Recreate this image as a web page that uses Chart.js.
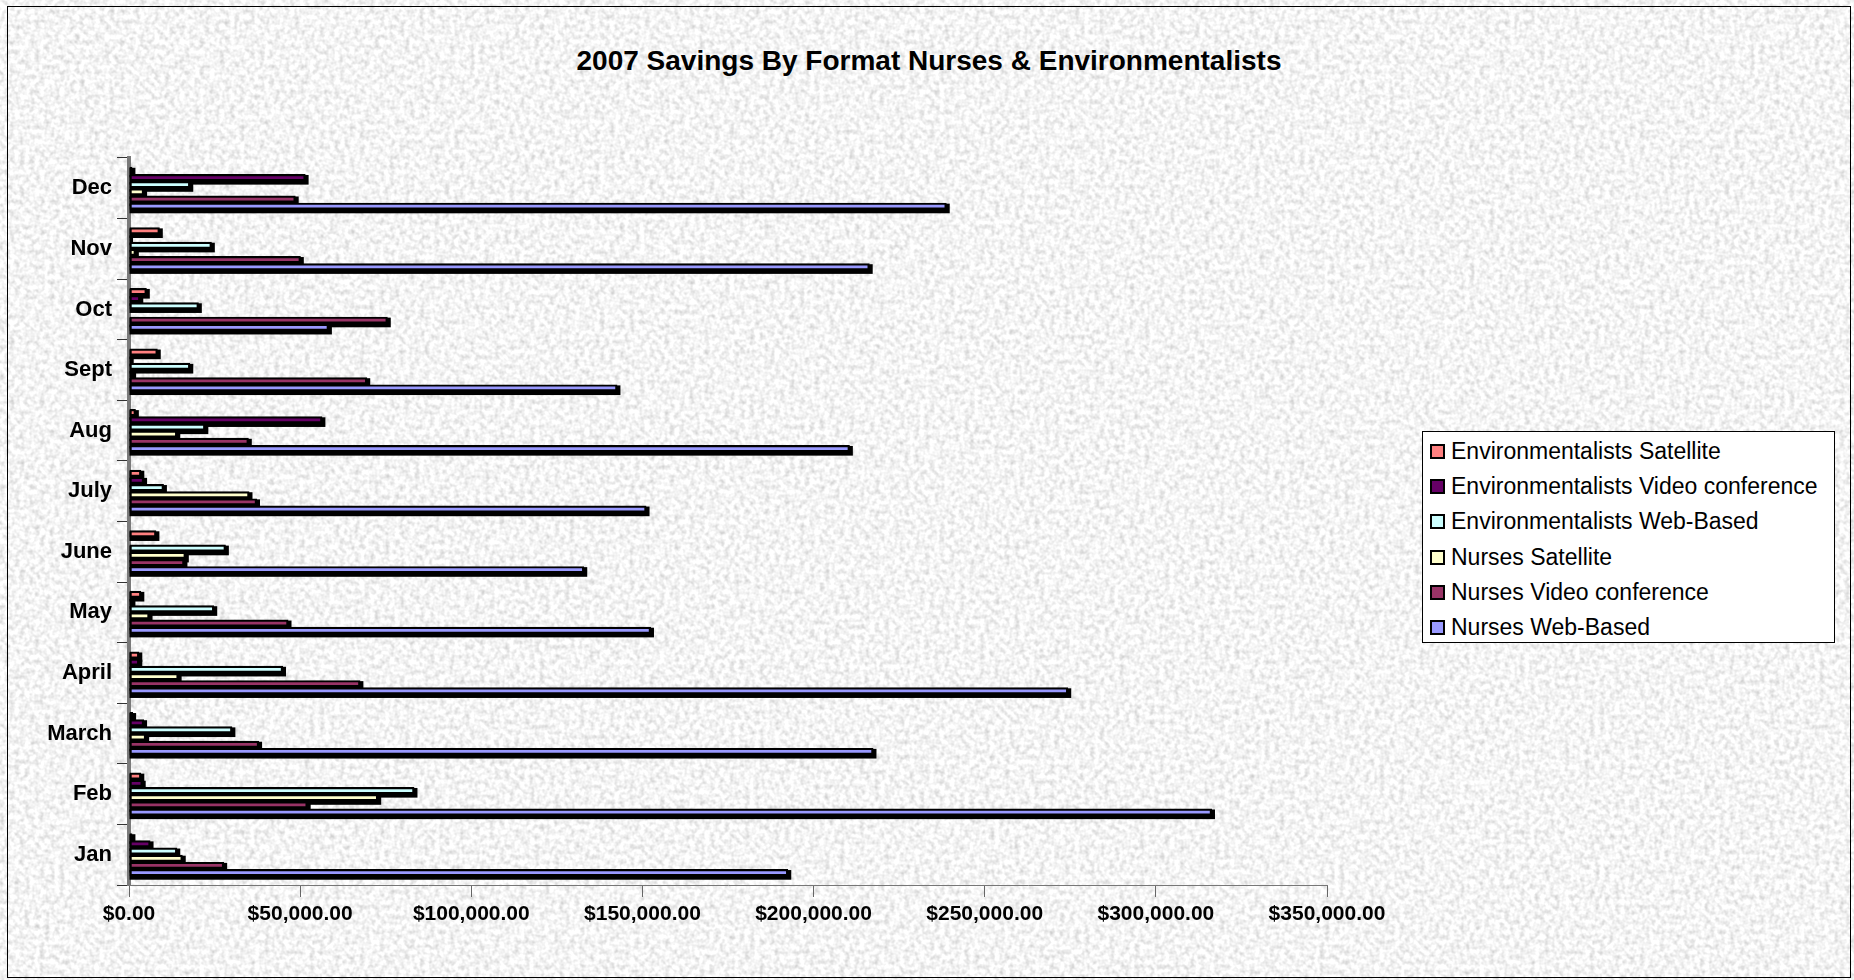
<!DOCTYPE html>
<html>
<head>
<meta charset="utf-8">
<script src="https://cdn.jsdelivr.net/npm/chart.js@4.4.0/dist/chart.umd.min.js"></script>
<style>
    body { margin: 0; background: #fff; }
    #wrap {
        position: relative;
        width: 1854px;
        height: 980px;
        background-color: #e6e6e6;
        background-image: url("data:image/svg+xml,%3Csvg xmlns='http://www.w3.org/2000/svg' width='1854' height='980'%3E%3Cfilter id='n'%3E%3CfeTurbulence type='fractalNoise' baseFrequency='0.2' numOctaves='2' seed='3'/%3E%3CfeColorMatrix type='matrix' values='0.7 0 0 0 0.56 0.7 0 0 0 0.56 0.7 0 0 0 0.56 0 0 0 0 1'/%3E%3C/filter%3E%3Crect width='100%25' height='100%25' filter='url(%23n)'/%3E%3C/svg%3E");
        font-family: "Liberation Sans", Arial, sans-serif;
    }
    #frame {
        position: absolute;
        left: 7px; top: 6px; width: 1844px; height: 972px;
        border: 1px solid #000;
        box-sizing: border-box;
    }
    #title {
        position: absolute;
        left: 7px; width: 1844px; top: 43px;
        text-align: center;
        font-weight: bold;
        font-size: 28px;
        line-height: 36px;
        color: #000;
    }
    #legend {
        position: absolute;
        left: 1422px; top: 431px; width: 413px; height: 212px;
        box-sizing: border-box;
        background: #fff;
        border: 1px solid #000;
        padding: 2px 0 0 7px;
    }
    .item { height: 35.2px; display: flex; align-items: center; font-size: 23px; color: #000; }
    .sw { width: 15px; height: 15px; border: 2px solid #000; box-sizing: border-box; margin-right: 6px; }
    canvas { position: absolute; left: 0; top: 0; }
</style>
</head>
<body>
<div id="wrap">
    <div id="frame"></div>
    <div id="title">2007 Savings By Format Nurses &amp; Environmentalists</div>
    <canvas id="chart" width="1854" height="980"></canvas>
    <div id="legend"></div>
</div>
<script>
// months, bottom (Jan) to top (Dec)
const months = ['Jan', 'Feb', 'March', 'April', 'May', 'June', 'July', 'Aug', 'Sept', 'Oct', 'Nov', 'Dec'];

const seriesNames = [
    'Environmentalists Satellite',
    'Environmentalists Video conference',
    'Environmentalists Web-Based',
    'Nurses Satellite',
    'Nurses Video conference',
    'Nurses Web-Based'
];
const seriesColors = ['#FF8080', '#660066', '#CCFFFF', '#FFFFCC', '#993366', '#9999FF'];

const envSatellite    = [1000, 3600, 1200, 3000, 3600, 8000, 3600, 2000, 8400, 5200, 9000, 1000];
const envVideo        = [6300, 4000, 4400, 3000, 1000, 0, 4400, 56500, 500, 3300, 300, 51600];
const envWeb          = [14100, 83400, 30200, 45000, 24900, 28300, 10200, 22300, 17900, 20400, 24200, 17900];
const nursesSatellite = [15700, 72800, 5000, 14500, 6000, 16600, 35200, 14100, 1200, 0, 2000, 4400];
const nursesVideo     = [27800, 52200, 38000, 67600, 46600, 16200, 37400, 35000, 69600, 75600, 50200, 48700];
const nursesWeb       = [192600, 316400, 217500, 274400, 152500, 133000, 151200, 210600, 142700, 58400, 216400, 238900];

const xTicks = [0, 50000, 100000, 150000, 200000, 250000, 300000, 350000];

const allSeries = [envSatellite, envVideo, envWeb, nursesSatellite, nursesVideo, nursesWeb];

// --- HTML legend ---
const legendDiv = document.getElementById('legend');
seriesNames.forEach((name, i) => {
    const row = document.createElement('div');
    row.className = 'item';
    row.innerHTML = `<span class="sw" style="background:${seriesColors[i]}"></span>${name}`;
    legendDiv.appendChild(row);
});

// black drop shadow behind every bar, taken from the bar geometry
const barShadow = {
    id: 'barShadow',
    beforeDatasetsDraw(chart) {
        const ctx = chart.ctx;
        ctx.save();
        ctx.fillStyle = '#000';
        chart.data.datasets.forEach((ds, di) => {
            const meta = chart.getDatasetMeta(di);
            meta.data.forEach(bar => {
                const p = bar.getProps(['x', 'y', 'base', 'height'], true);
                if (p.x - p.base < 0.5) return;
                ctx.fillRect(p.base, p.y - p.height / 2 + 1, p.x - p.base + 3, p.height + 2.5);
            });
        });
        ctx.restore();
    }
};

const fontFamily = '"Liberation Sans", Arial, sans-serif';

new Chart(document.getElementById('chart'), {
    type: 'bar',
    data: {
        labels: months,
        datasets: allSeries.map((values, i) => ({
            label: seriesNames[i],
            data: values,
            backgroundColor: seriesColors[i],
            borderColor: '#000',
            borderWidth: 2.2,
            borderSkipped: false,
            categoryPercentage: 0.71,
            barPercentage: 1.0
        }))
    },
    options: {
        indexAxis: 'y',
        responsive: false,
        animation: false,
        devicePixelRatio: 1,
        layout: { padding: { left: 0, right: 527, top: 158, bottom: 0 } },
        plugins: {
            legend: { display: false },
            title: { display: false },
            tooltip: { enabled: false }
        },
        scales: {
            x: {
                min: 0,
                max: 350000,
                afterBuildTicks: scale => { scale.ticks = xTicks.map(v => ({ value: v })); },
                afterFit: scale => { scale.height = 95; },
                grid: { drawOnChartArea: false, drawTicks: true, tickLength: 12, color: '#666', lineWidth: 1 },
                border: { display: true, color: '#777', width: 1 },
                ticks: {
                    padding: 5,
                    color: '#000',
                    font: { family: fontFamily, size: 21, weight: 'bold' },
                    callback: v => '$' + Number(v).toLocaleString('en-US', { minimumFractionDigits: 2, maximumFractionDigits: 2 })
                }
            },
            y: {
                reverse: true,
                afterFit: scale => { scale.width = 129; },
                grid: { drawOnChartArea: false, drawTicks: true, tickLength: 12, color: '#333', lineWidth: 1 },
                border: { display: true, color: '#7a7a7a', width: 4 },
                ticks: {
                    padding: 5,
                    color: '#000',
                    font: { family: fontFamily, size: 22, weight: 'bold' }
                }
            }
        }
    },
    plugins: [barShadow]
});
</script>
</body>
</html>
